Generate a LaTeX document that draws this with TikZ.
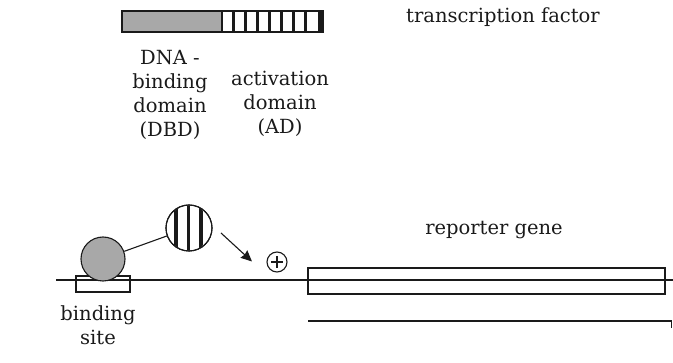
\documentclass[tikz,border=0pt]{standalone}
\usepackage{fontspec}
\setmainfont{DejaVu Serif}
\usetikzlibrary{arrows.meta}

\definecolor{dbdgrey}{HTML}{A8A8A8}
\definecolor{ink}{HTML}{1A1A1A}

\tikzset{
  lbl/.style={inner sep=0pt, font=\fontsize{19.5}{24}\selectfont, text=ink, align=center},
  stroke/.style={draw=ink, line width=1.1pt},
  domainbox/.style={stroke, rectangle, inner sep=0pt},
  ball/.style={stroke, circle, inner sep=0pt, minimum size=#1},
  bar/.style={fill=ink, draw=none},
}

\begin{document}
\begin{tikzpicture}[x=1pt, y=-1pt]
  \useasboundingbox (0,0) rectangle (673,363);

  % transcription factor: DBD (grey) + AD (striped)
  \node[domainbox, fill=dbdgrey, minimum width=100pt, minimum height=21pt] (dbdbar) at (172,21.5) {};
  \node[domainbox, fill=white, minimum width=101pt, minimum height=21pt] (adbar) at (272.5,21.5) {};
  \foreach \k in {0,...,6} {
    \fill[bar] ({231.5+12*\k},11) rectangle ({234.5+12*\k},32);
  }
  \fill[bar] (318,11) rectangle (323,32);
  \node[domainbox, minimum width=201pt, minimum height=21pt] (tfbar) at (222.5,21.5) {};

  % labels (base anchor sits on the last line)
  \node[lbl, anchor=base] (tflabel) at (503,23) {transcription factor};
  \node[lbl, anchor=base] (dbdlabel) at (170,137) {DNA -\\binding\\domain\\(DBD)};
  \node[lbl, anchor=base] (adlabel) at (280,134) {activation\\domain\\(AD)};

  % DNA and binding site
  \node[domainbox, fill=white, minimum width=54pt, minimum height=16pt] (site) at (103,284) {};
  \coordinate (dnaL) at (56,280);
  \coordinate (dnaR) at (673,280);

  % reporter gene box
  \node[domainbox, minimum width=357pt, minimum height=26pt] (gene) at (486.5,281) {};
  \draw[stroke] (dnaL) -- (dnaR);

  % bound activator: DBD ball tethered to the AD ball
  \node[ball=44pt, fill=dbdgrey] (dbdball) at (103,259) {};
  \node[ball=46pt, fill=white] (adball) at (189,228) {};
  \begin{scope}
    \clip (adball.center) circle (22.5pt);
    \fill[bar] (174,200) rectangle (178,256);
    \fill[bar] (187,200) rectangle (189.5,256);
    \fill[bar] (199,200) rectangle (203,256);
  \end{scope}
  \node[ball=46pt] at (adball.center) {};
  \draw[stroke] (dbdball) -- (adball);

  % activation arrow and plus sign
  \coordinate (arrS) at (221,233);
  \coordinate (arrE) at (252,261.5);
  \draw[stroke, -{Stealth[length=11pt, width=10pt, inset=1pt]}] (arrS) -- (arrE);
  \node[ball=20pt] (plus) at (277,262) {};
  \draw[stroke] ([xshift=-6pt]plus.center) -- ([xshift=6pt]plus.center);
  \draw[stroke] ([yshift=-6pt]plus.center) -- ([yshift=6pt]plus.center);

  % transcript
  \coordinate (rnaL) at (308,321);
  \coordinate (rnaR) at (671.5,321);
  \coordinate (rnaT) at (671.5,328);
  \draw[stroke] (rnaL) -- (rnaR) -- (rnaT);

  \node[lbl, anchor=base] (genelabel) at (494,235) {reporter gene};
  \node[lbl, anchor=base] (sitelabel) at (98,345) {binding\\site};
\end{tikzpicture}
\end{document}
